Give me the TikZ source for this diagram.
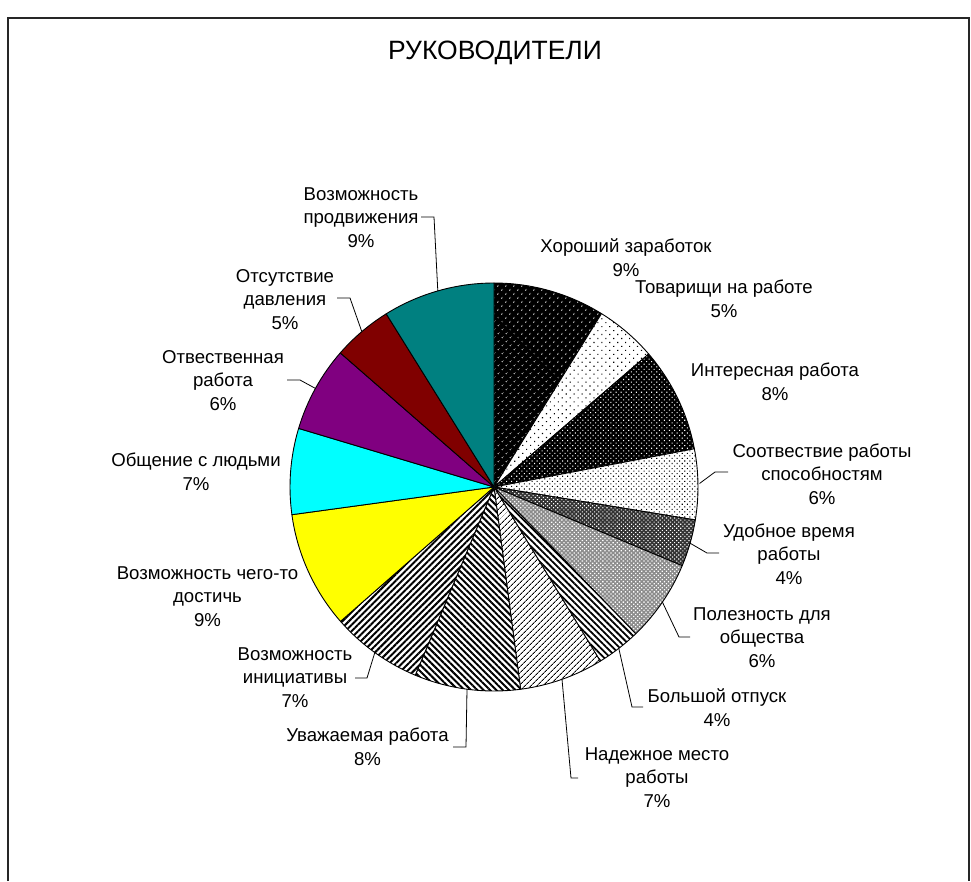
\documentclass[tikz,border=0pt]{standalone}
\usepackage{fontspec}
\setmainfont{Liberation Sans}
\usetikzlibrary{patterns.meta}
\definecolor{cTeal}{RGB}{0,128,128}
\definecolor{cMaroon}{RGB}{128,0,0}
\definecolor{cPurple}{RGB}{128,0,128}
\definecolor{cCyan}{RGB}{0,255,255}
\definecolor{cYellow}{RGB}{255,255,0}
\newcommand\pieslice[3]{%
  \path[#3] (494,-487) -- ++({90-#1}:204) arc[start angle={90-#1}, end angle={90-#2}, radius=204] -- cycle;%
}
\begin{document}
\begin{tikzpicture}[x=1pt,y=1pt,
  lbl/.style={align=center, inner sep=0pt, anchor=base, font=\fontsize{18.6}{23.5}\selectfont},
  ttl/.style={inner sep=0pt, anchor=base, font=\fontsize{26.5}{30}\selectfont},
  lead/.style={draw=black, line width=0.8pt},
  wedge/.style={draw=black, line width=0.9pt, line join=round},
  frame/.style={draw=black!85, line width=1.3pt}]
\useasboundingbox (0,0) rectangle (971,-881);
\fill[white] (0,0) rectangle (971,-881);
\draw[frame] (8,-881) -- (8,-18) -- (969,-18) -- (969,-881);

\node[ttl] (title) at (495,-59.5) {РУКОВОДИТЕЛИ};

% slices (clockwise from top)
\pieslice{0}{31.8}{wedge, preaction={fill=black}, pattern={Dots[distance=5.4pt, radius=0.8pt, angle=45]}, pattern color=white}
\pieslice{31.8}{49.3}{wedge, preaction={fill=white}, pattern={Dots[distance=5.6pt, radius=0.8pt, angle=45]}, pattern color=black}
\pieslice{49.3}{79.2}{wedge, preaction={fill=black}, pattern={Dots[distance=3.6pt, radius=0.75pt, angle=45]}, pattern color=white}
\pieslice{79.2}{99.3}{wedge, preaction={fill=white}, pattern={Dots[distance=3.6pt, radius=0.75pt, angle=45]}, pattern color=black}
\pieslice{99.3}{112.7}{wedge, preaction={fill=black!80}, pattern={Dots[distance=2.9pt, radius=0.8pt, angle=45]}, pattern color=white}
\pieslice{112.7}{136}{wedge, preaction={fill=black!45}, pattern={Dots[distance=2.9pt, radius=0.9pt, angle=45]}, pattern color=white}
\pieslice{136}{148.6}{wedge, preaction={fill=white}, pattern={Lines[distance=4.5pt, angle=-45, line width=1.8pt]}, pattern color=black}
\pieslice{148.6}{172.5}{wedge, preaction={fill=white}, pattern={Lines[distance=4pt, angle=45, line width=1pt]}, pattern color=black}
\pieslice{172.5}{202.7}{wedge, preaction={fill=white}, pattern={Lines[distance=4.5pt, angle=-45, line width=2pt]}, pattern color=black}
\pieslice{202.7}{228.8}{wedge, preaction={fill=white}, pattern={Lines[distance=4.5pt, angle=45, line width=2pt]}, pattern color=black}
\pieslice{228.8}{262.2}{wedge, fill=cYellow}
\pieslice{262.2}{286.7}{wedge, fill=cCyan}
\pieslice{286.7}{311.1}{wedge, fill=cPurple}
\pieslice{311.1}{328.1}{wedge, fill=cMaroon}
\pieslice{328.1}{360}{wedge, fill=cTeal}

% labels (anchor = baseline of last line)
\node[lbl] (l1) at (626,-276) {Хороший заработок\\9\%};
\node[lbl] (l2) at (724,-317) {Товарищи на работе\\5\%};
\node[lbl] (l3) at (775,-400) {Интересная работа\\8\%};
\node[lbl] (l4) at (822,-504) {Соотвествие работы\\способностям\\6\%};
\node[lbl] (l5) at (789,-584) {Удобное время\\работы\\4\%};
\node[lbl] (l6) at (762,-667) {Полезность для\\общества\\6\%};
\node[lbl] (l7) at (717,-726) {Большой отпуск\\4\%};
\node[lbl] (l8) at (657,-807) {Надежное место\\работы\\7\%};
\node[lbl] (l9) at (367.5,-765) {Уважаемая работа\\8\%};
\node[lbl] (l10) at (295,-707) {Возможность\\инициативы\\7\%};
\node[lbl] (l11) at (207.5,-626) {Возможность чего-то\\достичь\\9\%};
\node[lbl] (l12) at (196,-490) {Общение с людьми\\7\%};
\node[lbl] (l13) at (223,-410) {Отвественная\\работа\\6\%};
\node[lbl] (l14) at (285,-329) {Отсутствие\\давления\\5\%};
\node[lbl] (l15) at (361,-247) {Возможность\\продвижения\\9\%};

% leader lines
\coordinate (a4) at (728,-472); \coordinate (b4) at (715,-472); \coordinate (e4) at (699.5,-483.5);
\coordinate (a5) at (719,-553); \coordinate (b5) at (707,-553); \coordinate (e5) at (690.1,-543.2);
\coordinate (a6) at (690,-637); \coordinate (b6) at (679,-637); \coordinate (e6) at (662.4,-602.1);
\coordinate (a7) at (643,-707); \coordinate (b7) at (632,-707); \coordinate (e7) at (618.8,-648.4);
\coordinate (a8) at (578,-778); \coordinate (b8) at (571,-778); \coordinate (e8) at (562,-679.3);
\coordinate (a9) at (453,-747); \coordinate (b9) at (466,-747); \coordinate (e9) at (467,-689.2);
\coordinate (a10) at (355,-678); \coordinate (b10) at (367,-678); \coordinate (e10) at (374.8,-652.6);
\coordinate (a13) at (287,-380); \coordinate (b13) at (300,-380); \coordinate (e13) at (315.4,-388.4);
\coordinate (a14) at (337,-298); \coordinate (b14) at (350,-298); \coordinate (e14) at (361.8,-331.6);
\coordinate (a15) at (421,-217); \coordinate (b15) at (434,-217); \coordinate (e15) at (437.8,-290.9);
\foreach \i in {4,5,6,7,8,9,10,13,14,15} {\draw[lead] (a\i) -- (b\i) -- (e\i);}
\end{tikzpicture}
\end{document}
